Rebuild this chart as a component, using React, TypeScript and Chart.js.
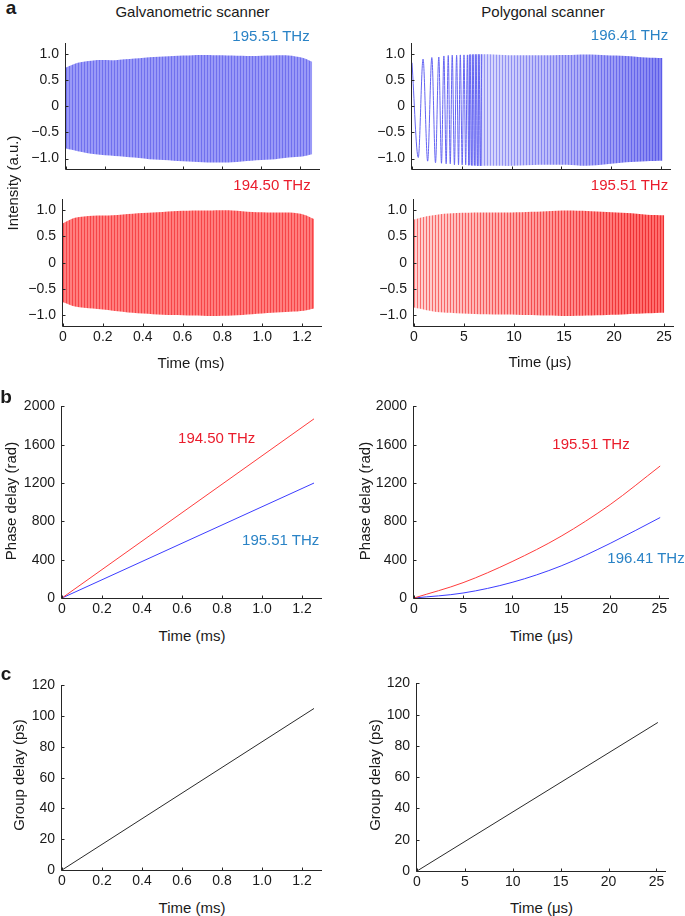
import React, { useEffect, useRef } from 'react';
import { Chart, registerables } from 'chart.js';

Chart.register(...registerables);

const FONT = '"Liberation Sans", Arial, Helvetica, sans-serif';

// ---------------- tick labels ----------------
const intensityTicks = [-1, -0.5, 0, 0.5, 1];
const galvoTimeTicks = [0, 0.2, 0.4, 0.6, 0.8, 1.0, 1.2];
const polyTimeTicks = [0, 5, 10, 15, 20, 25];
const phaseTicks = [0, 400, 800, 1200, 1600, 2000];
const groupTicks = [0, 20, 40, 60, 80, 100, 120];

// ---------------- panel a : fringe signal envelopes ----------------
// Galvanometric scanner (time in ms)
const galvoEnvT = [0, 0.06, 0.15, 0.25, 0.35, 0.45, 0.55, 0.65, 0.75, 0.85, 0.95, 1.05, 1.14, 1.21, 1.26];
const galvoBlueUpper = [0.74, 0.83, 0.88, 0.88, 0.91, 0.94, 0.96, 0.975, 0.975, 0.97, 0.96, 0.97, 0.97, 0.925, 0.85];
const galvoBlueLower = [-0.81, -0.86, -0.92, -0.95, -0.98, -1.02, -1.04, -1.06, -1.075, -1.07, -1.04, -1.02, -0.98, -0.96, -0.92];
const galvoRedUpper = [0.75, 0.85, 0.89, 0.9, 0.93, 0.95, 0.975, 0.99, 0.99, 0.99, 0.96, 0.95, 0.95, 0.91, 0.83];
const galvoRedLower = [-0.75, -0.83, -0.87, -0.91, -0.95, -0.975, -0.99, -1.0, -1.01, -1.0, -0.975, -0.95, -0.93, -0.91, -0.87];

// Polygonal scanner (time in µs), 196.41 THz: resolved early fringes (extrema)
const polyBlueFringeT = [0, 0.63, 1.11, 1.57, 1.99, 2.36, 2.69, 2.96, 3.2, 3.43, 3.64, 3.84, 4.04, 4.26, 4.48, 4.67, 4.85, 5.04, 5.22, 5.39, 5.56, 5.7, 5.83, 5.98, 6.13, 6.28, 6.43, 6.58, 6.73, 6.87, 7.0];
const polyBlueFringeI = [0.83, -0.98, 0.9, -1.05, 0.93, -1.08, 0.94, -1.09, 0.96, -1.1, 0.97, -1.1, 0.975, -1.12, 0.975, -1.12, 0.98, -1.12, 0.98, -1.12, 0.98, -1.13, 0.99, -1.13, 0.99, -1.13, 0.99, -1.14, 0.99, -1.14, 0.99];
// dense part envelope
const polyBlueEnvT = [5.6, 6.15, 8.2, 10.2, 12.8, 15.5, 17.5, 19.5, 21.5, 23.5, 25.15];
const polyBlueUpper = [0.98, 0.99, 0.99, 0.975, 0.975, 0.98, 0.99, 0.975, 0.96, 0.93, 0.92];
const polyBlueLower = [-1.12, -1.14, -1.14, -1.14, -1.12, -1.12, -1.14, -1.11, -1.07, -1.05, -1.04];
// 195.51 THz
const polyRedEnvT = [0, 1.27, 2.6, 4.27, 6.6, 9.28, 11.28, 13.28, 15.29, 17.29, 19.29, 21.3, 23.3, 25.03];
const polyRedUpper = [0.82, 0.88, 0.92, 0.94, 0.95, 0.95, 0.96, 0.975, 0.99, 0.98, 0.96, 0.94, 0.91, 0.9];
const polyRedLower = [-0.85, -0.9, -0.94, -0.96, -0.975, -0.98, -0.99, -1.0, -1.01, -1.0, -0.99, -0.975, -0.96, -0.95];

// ---------------- panel b : phase delay (rad) ----------------
const galvoPhaseT = [0, 1.26];
const galvoPhaseRed = [0, 1870];
const galvoPhaseBlue = [0, 1200];
const polyPhaseT = [0, 5, 10, 15, 20, 25.1];
const polyPhaseRed = [0, 160, 380, 645, 975, 1378];
const polyPhaseBlue = [0, 52, 163, 335, 570, 840];

// ---------------- panel c : group delay (ps) ----------------
const galvoGroupT = [0, 1.26];
const galvoGroup = [0, 105];
const polyGroupT = [0, 25.15];
const polyGroup = [0, 95];

// ---------------- styling ----------------
type RGB = [number, number, number];
const mix = (a: RGB, b: RGB, k: number): RGB => [a[0] + (b[0] - a[0]) * k, a[1] + (b[1] - a[1]) * k, a[2] + (b[2] - a[2]) * k];
const clamp01 = (v: number) => Math.max(0, Math.min(1, v));

const RED_LINE = 'rgb(255,60,60)';
const BLUE_LINE = 'rgb(60,60,255)';
const BLUE_TEXT = '#2a83c6';
const RED_TEXT = '#ea1d2c';
const INK = '#1a1a1a';
const PAD = { l: 60, t: 12, r: 12, b: 24 };

const pts = (xs: number[], ys: number[]) => xs.map((x, i) => ({ x, y: ys[i] }));

const fmtIntensity = (v: number) => (v === 0 ? '0' : (v < 0 ? '\u2212' : '') + Math.abs(v).toFixed(1));
const fmtMs = (v: number) => (v === 0 ? '0' : v.toFixed(1));
const fmtInt = (v: number) => String(Math.round(v));
const fmtNone = (_v: number) => '';

const axesPlugin = {
  id: 'matlabAxes',
  afterDraw(chart: any) {
    const { ctx, chartArea: a, scales } = chart;
    const xs = scales.x;
    const ys = scales.y;
    const left = Math.round(a.left) - 0.5;
    const bottom = Math.round(a.bottom) + 0.5;
    ctx.save();
    ctx.strokeStyle = '#262626';
    ctx.lineWidth = 1;
    ctx.beginPath();
    ctx.moveTo(left, Math.round(a.top));
    ctx.lineTo(left, bottom);
    ctx.lineTo(Math.round(a.right), bottom);
    xs.ticks.forEach((t: any) => {
      const px = Math.round(xs.getPixelForValue(t.value)) + 0.5;
      ctx.moveTo(px, bottom);
      ctx.lineTo(px, bottom - 3);
    });
    ys.ticks.forEach((t: any) => {
      const py = Math.round(ys.getPixelForValue(t.value)) + 0.5;
      ctx.moveTo(left, py);
      ctx.lineTo(left + 3, py);
    });
    ctx.stroke();
    ctx.restore();
  },
};

type Area = { L: number; T: number; R: number; B: number };
type Spec = {
  id: string;
  area: Area;
  xMax: number;
  yMin: number;
  yMax: number;
  xTicks: number[];
  yTicks: number[];
  xFmt: (v: number) => string;
  yFmt: (v: number) => string;
  build: (pattern: (colorAt: (t: number, dark: boolean) => RGB) => any) => any[];
};

const band = (T: number[], U: number[], Lo: number[], fillStyle: any) => [
  { data: pts(T, U), borderColor: 'rgba(0,0,0,0)', borderWidth: 1, backgroundColor: fillStyle, fill: '+1', pointRadius: 0, tension: 0.3 },
  { data: pts(T, Lo), borderColor: 'rgba(0,0,0,0)', borderWidth: 1, fill: false, pointRadius: 0, tension: 0.3 },
];

const line = (T: number[], Y: number[], color: string, monotone = false) => ({
  data: pts(T, Y),
  borderColor: color,
  borderWidth: 1,
  pointRadius: 0,
  fill: false,
  ...(monotone ? { cubicInterpolationMode: 'monotone' } : {}),
});

const specs: Spec[] = [
  {
    id: 'a1', area: { L: 66, T: 40, R: 320, B: 169 }, xMax: 1.3, yMin: -1.2, yMax: 1.2,
    xTicks: galvoTimeTicks, yTicks: intensityTicks, xFmt: fmtNone, yFmt: fmtIntensity,
    build: (pattern) => band(galvoEnvT, galvoBlueUpper, galvoBlueLower,
      pattern((_t, dark) => (dark ? [112, 112, 238] : [154, 154, 247]))),
  },
  {
    id: 'a2', area: { L: 63, T: 196, R: 322, B: 326 }, xMax: 1.3, yMin: -1.2, yMax: 1.2,
    xTicks: galvoTimeTicks, yTicks: intensityTicks, xFmt: fmtMs, yFmt: fmtIntensity,
    build: (pattern) => band(galvoEnvT, galvoRedUpper, galvoRedLower,
      pattern((_t, dark) => (dark ? [246, 68, 72] : [255, 126, 126]))),
  },
  {
    id: 'a3', area: { L: 412, T: 40, R: 671, B: 169 }, xMax: 26, yMin: -1.2, yMax: 1.2,
    xTicks: polyTimeTicks, yTicks: intensityTicks, xFmt: fmtNone, yFmt: fmtIntensity,
    build: (pattern) => [
      line(polyBlueFringeT, polyBlueFringeI, 'rgb(100,100,242)', true),
      ...band(polyBlueEnvT, polyBlueUpper, polyBlueLower,
        pattern((t, dark) => {
          const k = clamp01((t - 8) / 17);
          return dark ? mix([150, 150, 244], [92, 92, 233], k) : mix([214, 214, 252], [134, 134, 242], k);
        })),
    ],
  },
  {
    id: 'a4', area: { L: 414, T: 196, R: 674, B: 326 }, xMax: 26, yMin: -1.2, yMax: 1.2,
    xTicks: polyTimeTicks, yTicks: intensityTicks, xFmt: fmtInt, yFmt: fmtIntensity,
    build: (pattern) => band(polyRedEnvT, polyRedUpper, polyRedLower,
      pattern((t, dark) => {
        const k = clamp01(t / 22);
        return dark ? mix([248, 110, 110], [238, 48, 52], k) : mix([255, 210, 210], [255, 110, 110], k);
      })),
  },
  {
    id: 'b1', area: { L: 62, T: 403, R: 322, B: 598 }, xMax: 1.3, yMin: 0, yMax: 2000,
    xTicks: galvoTimeTicks, yTicks: phaseTicks, xFmt: fmtMs, yFmt: fmtInt,
    build: () => [line(galvoPhaseT, galvoPhaseRed, RED_LINE), line(galvoPhaseT, galvoPhaseBlue, BLUE_LINE)],
  },
  {
    id: 'b2', area: { L: 414, T: 403, R: 669, B: 598 }, xMax: 26, yMin: 0, yMax: 2000,
    xTicks: polyTimeTicks, yTicks: phaseTicks, xFmt: fmtInt, yFmt: fmtInt,
    build: () => [line(polyPhaseT, polyPhaseRed, RED_LINE, true), line(polyPhaseT, polyPhaseBlue, BLUE_LINE, true)],
  },
  {
    id: 'c1', area: { L: 62, T: 682, R: 322, B: 870 }, xMax: 1.3, yMin: 0, yMax: 120,
    xTicks: galvoTimeTicks, yTicks: groupTicks, xFmt: fmtMs, yFmt: fmtInt,
    build: () => [line(galvoGroupT, galvoGroup, '#2a2a2a')],
  },
  {
    id: 'c2', area: { L: 417, T: 680, R: 666, B: 871 }, xMax: 26, yMin: 0, yMax: 120,
    xTicks: polyTimeTicks, yTicks: groupTicks, xFmt: fmtInt, yFmt: fmtInt,
    build: () => [line(polyGroupT, polyGroup, '#2a2a2a')],
  },
];

function Panel({ spec }: { spec: Spec }) {
  const ref = useRef<HTMLCanvasElement | null>(null);
  const { L, T, R, B } = spec.area;
  const w = R - L + PAD.l + PAD.r;
  const h = B - T + PAD.t + PAD.b;

  useEffect(() => {
    const canvas = ref.current;
    if (!canvas) return;
    const ctx2d = canvas.getContext('2d') as CanvasRenderingContext2D;
    const areaW = R - L;
    const pattern = (colorAt: (t: number, dark: boolean) => RGB) => {
      const off = document.createElement('canvas');
      off.width = w;
      off.height = 1;
      const c = off.getContext('2d') as CanvasRenderingContext2D;
      for (let px = 0; px < w; px++) {
        const t = ((px + 0.5 - PAD.l) / areaW) * spec.xMax;
        const [r, g, b] = colorAt(t, px % 3 === 0);
        c.fillStyle = `rgb(${Math.round(r)},${Math.round(g)},${Math.round(b)})`;
        c.fillRect(px, 0, 1, 1);
      }
      return ctx2d.createPattern(off, 'repeat') || 'rgb(150,150,240)';
    };
    const tickFont = { size: 14, family: FONT };
    const chart = new Chart(canvas, {
      type: 'line',
      data: { datasets: spec.build(pattern) as any },
      options: {
        animation: false,
        responsive: false,
        devicePixelRatio: 1,
        events: [],
        layout: { padding: { top: PAD.t, right: PAD.r, left: 0, bottom: 0 } },
        plugins: { legend: { display: false }, tooltip: { enabled: false } },
        elements: { point: { radius: 0 } },
        scales: {
          x: {
            type: 'linear', min: 0, max: spec.xMax,
            grid: { display: false, drawTicks: false }, border: { display: false },
            ticks: { padding: 3, color: INK, font: tickFont, autoSkip: false, maxRotation: 0, callback: (v: any) => spec.xFmt(Number(v)) },
            afterBuildTicks: (s: any) => { s.ticks = spec.xTicks.map((v) => ({ value: v })); },
            afterFit: (s: any) => { s.height = PAD.b; },
          },
          y: {
            type: 'linear', min: spec.yMin, max: spec.yMax,
            grid: { display: false, drawTicks: false }, border: { display: false },
            ticks: { padding: 7, color: INK, font: tickFont, autoSkip: false, callback: (v: any) => spec.yFmt(Number(v)) },
            afterBuildTicks: (s: any) => { s.ticks = spec.yTicks.map((v) => ({ value: v })); },
            afterFit: (s: any) => { s.width = PAD.l; },
          },
        },
      } as any,
      plugins: [axesPlugin as any],
    });
    return () => chart.destroy();
  }, []);

  return (
    <canvas
      ref={ref}
      width={w}
      height={h}
      style={{ position: 'absolute', left: L - PAD.l, top: T - PAD.t, width: w, height: h }}
    />
  );
}

function Txt({ x, y, children, color = INK, size = 15, bold = false, rotate = false }: any) {
  return (
    <div
      style={{
        position: 'absolute', left: x, top: y, whiteSpace: 'nowrap', lineHeight: 1,
        fontFamily: FONT, fontSize: size, fontWeight: bold ? 700 : 400, color,
        transform: `translate(-50%, -50%)${rotate ? ' rotate(-90deg)' : ''}`,
      }}
    >
      {children}
    </div>
  );
}

export default function App() {
  return (
    <div style={{ position: 'absolute', left: 0, top: 0, width: 685, height: 916, background: '#fff', overflow: 'hidden' }}>
      {specs.map((s) => <Panel key={s.id} spec={s} />)}

      <Txt x={11} y={7} size={19} bold>a</Txt>
      <Txt x={192.5} y={11}>Galvanometric scanner</Txt>
      <Txt x={543} y={11}>Polygonal scanner</Txt>
      <Txt x={271} y={35} color={BLUE_TEXT}>195.51 THz</Txt>
      <Txt x={272} y={184} color={RED_TEXT}>194.50 THz</Txt>
      <Txt x={629.5} y={34} color={BLUE_TEXT}>196.41 THz</Txt>
      <Txt x={629.5} y={184} color={RED_TEXT}>195.51 THz</Txt>
      <Txt x={12} y={183} rotate>Intensity (a.u.)</Txt>
      <Txt x={191} y={362}>Time (ms)</Txt>
      <Txt x={540} y={361}>Time (μs)</Txt>

      <Txt x={6} y={396} size={19} bold>b</Txt>
      <Txt x={216.7} y={436.7} color={RED_TEXT}>194.50 THz</Txt>
      <Txt x={280.7} y={539.3} color={BLUE_TEXT}>195.51 THz</Txt>
      <Txt x={591} y={443.3} color={RED_TEXT}>195.51 THz</Txt>
      <Txt x={646} y={557.3} color={BLUE_TEXT}>196.41 THz</Txt>
      <Txt x={9.5} y={501} rotate>Phase delay (rad)</Txt>
      <Txt x={364} y={501} rotate>Phase delay (rad)</Txt>
      <Txt x={192} y={635}>Time (ms)</Txt>
      <Txt x={541.5} y={635}>Time (μs)</Txt>

      <Txt x={6} y={673} size={19} bold>c</Txt>
      <Txt x={17.5} y={775} rotate>Group delay (ps)</Txt>
      <Txt x={373.5} y={775} rotate>Group delay (ps)</Txt>
      <Txt x={192} y={906.7}>Time (ms)</Txt>
      <Txt x={541.5} y={906.7}>Time (μs)</Txt>
    </div>
  );
}
